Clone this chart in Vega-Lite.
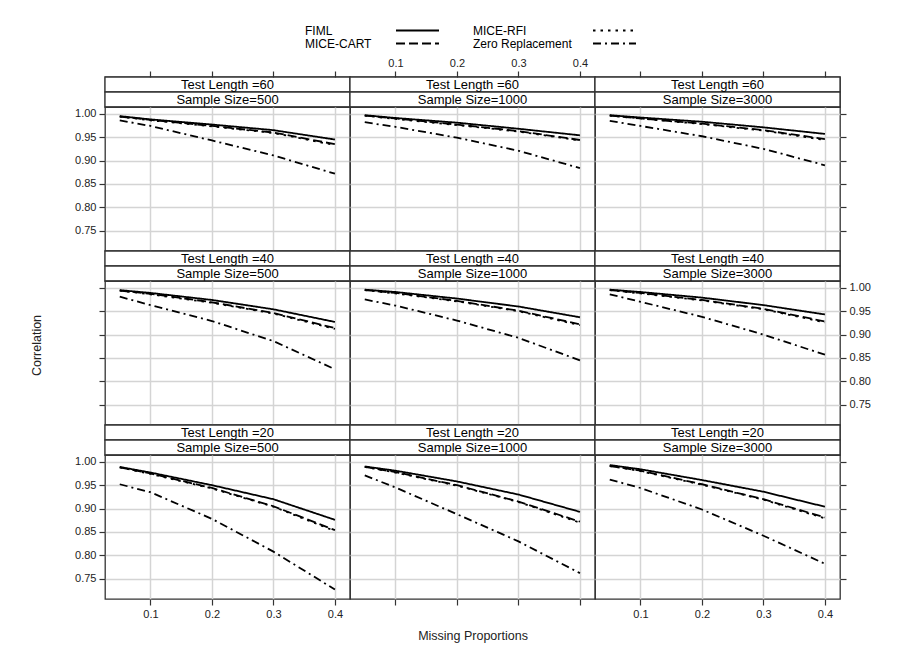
{
"$schema": "https://vega.github.io/schema/vega-lite/v6.json",
"padding": {"left": 29, "top": 24, "right": 5, "bottom": 5},
"background": "white",
"config": {
  "view": {"stroke": "#333", "strokeWidth": 1.3},
  "axis": {"domain": false, "tickColor": "#333", "tickSize": 6, "tickWidth": 1.2, "labelPadding": 3, "labelFont": "Liberation Sans", "labelFontSize": 11, "labelColor": "#222", "labelFlush": false, "gridColor": "#d4d4d4", "gridWidth": 1.5, "titleFont": "Liberation Sans", "titleFontSize": 12.5, "titleFontWeight": "normal", "titleColor": "#222"},
  "text": {"font": "Liberation Sans"}
},
"datasets": {"d": [
{"t":60,"s":500,"m":"FIML","p":0.05,"r":0.995},{"t":60,"s":500,"m":"FIML","p":0.1,"r":0.988},{"t":60,"s":500,"m":"FIML","p":0.2,"r":0.977},{"t":60,"s":500,"m":"FIML","p":0.3,"r":0.965},{"t":60,"s":500,"m":"FIML","p":0.4,"r":0.945},
{"t":60,"s":500,"m":"MICE-CART","p":0.05,"r":0.994},{"t":60,"s":500,"m":"MICE-CART","p":0.1,"r":0.987},{"t":60,"s":500,"m":"MICE-CART","p":0.2,"r":0.974},{"t":60,"s":500,"m":"MICE-CART","p":0.3,"r":0.960},{"t":60,"s":500,"m":"MICE-CART","p":0.4,"r":0.935},
{"t":60,"s":500,"m":"MICE-RFI","p":0.05,"r":0.994},{"t":60,"s":500,"m":"MICE-RFI","p":0.1,"r":0.986},{"t":60,"s":500,"m":"MICE-RFI","p":0.2,"r":0.973},{"t":60,"s":500,"m":"MICE-RFI","p":0.3,"r":0.959},{"t":60,"s":500,"m":"MICE-RFI","p":0.4,"r":0.933},
{"t":60,"s":500,"m":"Zero Replacement","p":0.05,"r":0.986},{"t":60,"s":500,"m":"Zero Replacement","p":0.1,"r":0.974},{"t":60,"s":500,"m":"Zero Replacement","p":0.2,"r":0.943},{"t":60,"s":500,"m":"Zero Replacement","p":0.3,"r":0.911},{"t":60,"s":500,"m":"Zero Replacement","p":0.4,"r":0.872},
{"t":60,"s":1000,"m":"FIML","p":0.05,"r":0.997},{"t":60,"s":1000,"m":"FIML","p":0.1,"r":0.991},{"t":60,"s":1000,"m":"FIML","p":0.2,"r":0.981},{"t":60,"s":1000,"m":"FIML","p":0.3,"r":0.968},{"t":60,"s":1000,"m":"FIML","p":0.4,"r":0.954},
{"t":60,"s":1000,"m":"MICE-CART","p":0.05,"r":0.996},{"t":60,"s":1000,"m":"MICE-CART","p":0.1,"r":0.990},{"t":60,"s":1000,"m":"MICE-CART","p":0.2,"r":0.977},{"t":60,"s":1000,"m":"MICE-CART","p":0.3,"r":0.963},{"t":60,"s":1000,"m":"MICE-CART","p":0.4,"r":0.944},
{"t":60,"s":1000,"m":"MICE-RFI","p":0.05,"r":0.996},{"t":60,"s":1000,"m":"MICE-RFI","p":0.1,"r":0.989},{"t":60,"s":1000,"m":"MICE-RFI","p":0.2,"r":0.976},{"t":60,"s":1000,"m":"MICE-RFI","p":0.3,"r":0.962},{"t":60,"s":1000,"m":"MICE-RFI","p":0.4,"r":0.943},
{"t":60,"s":1000,"m":"Zero Replacement","p":0.05,"r":0.982},{"t":60,"s":1000,"m":"Zero Replacement","p":0.1,"r":0.972},{"t":60,"s":1000,"m":"Zero Replacement","p":0.2,"r":0.949},{"t":60,"s":1000,"m":"Zero Replacement","p":0.3,"r":0.921},{"t":60,"s":1000,"m":"Zero Replacement","p":0.4,"r":0.884},
{"t":60,"s":3000,"m":"FIML","p":0.05,"r":0.997},{"t":60,"s":3000,"m":"FIML","p":0.1,"r":0.992},{"t":60,"s":3000,"m":"FIML","p":0.2,"r":0.983},{"t":60,"s":3000,"m":"FIML","p":0.3,"r":0.971},{"t":60,"s":3000,"m":"FIML","p":0.4,"r":0.957},
{"t":60,"s":3000,"m":"MICE-CART","p":0.05,"r":0.996},{"t":60,"s":3000,"m":"MICE-CART","p":0.1,"r":0.990},{"t":60,"s":3000,"m":"MICE-CART","p":0.2,"r":0.979},{"t":60,"s":3000,"m":"MICE-CART","p":0.3,"r":0.965},{"t":60,"s":3000,"m":"MICE-CART","p":0.4,"r":0.946},
{"t":60,"s":3000,"m":"MICE-RFI","p":0.05,"r":0.996},{"t":60,"s":3000,"m":"MICE-RFI","p":0.1,"r":0.990},{"t":60,"s":3000,"m":"MICE-RFI","p":0.2,"r":0.978},{"t":60,"s":3000,"m":"MICE-RFI","p":0.3,"r":0.964},{"t":60,"s":3000,"m":"MICE-RFI","p":0.4,"r":0.944},
{"t":60,"s":3000,"m":"Zero Replacement","p":0.05,"r":0.985},{"t":60,"s":3000,"m":"Zero Replacement","p":0.1,"r":0.974},{"t":60,"s":3000,"m":"Zero Replacement","p":0.2,"r":0.952},{"t":60,"s":3000,"m":"Zero Replacement","p":0.3,"r":0.925},{"t":60,"s":3000,"m":"Zero Replacement","p":0.4,"r":0.890},
{"t":40,"s":500,"m":"FIML","p":0.05,"r":0.995},{"t":40,"s":500,"m":"FIML","p":0.1,"r":0.989},{"t":40,"s":500,"m":"FIML","p":0.2,"r":0.974},{"t":40,"s":500,"m":"FIML","p":0.3,"r":0.954},{"t":40,"s":500,"m":"FIML","p":0.4,"r":0.927},
{"t":40,"s":500,"m":"MICE-CART","p":0.05,"r":0.994},{"t":40,"s":500,"m":"MICE-CART","p":0.1,"r":0.987},{"t":40,"s":500,"m":"MICE-CART","p":0.2,"r":0.969},{"t":40,"s":500,"m":"MICE-CART","p":0.3,"r":0.946},{"t":40,"s":500,"m":"MICE-CART","p":0.4,"r":0.914},
{"t":40,"s":500,"m":"MICE-RFI","p":0.05,"r":0.994},{"t":40,"s":500,"m":"MICE-RFI","p":0.1,"r":0.986},{"t":40,"s":500,"m":"MICE-RFI","p":0.2,"r":0.968},{"t":40,"s":500,"m":"MICE-RFI","p":0.3,"r":0.945},{"t":40,"s":500,"m":"MICE-RFI","p":0.4,"r":0.912},
{"t":40,"s":500,"m":"Zero Replacement","p":0.05,"r":0.981},{"t":40,"s":500,"m":"Zero Replacement","p":0.1,"r":0.963},{"t":40,"s":500,"m":"Zero Replacement","p":0.2,"r":0.929},{"t":40,"s":500,"m":"Zero Replacement","p":0.3,"r":0.886},{"t":40,"s":500,"m":"Zero Replacement","p":0.4,"r":0.826},
{"t":40,"s":1000,"m":"FIML","p":0.05,"r":0.996},{"t":40,"s":1000,"m":"FIML","p":0.1,"r":0.991},{"t":40,"s":1000,"m":"FIML","p":0.2,"r":0.977},{"t":40,"s":1000,"m":"FIML","p":0.3,"r":0.960},{"t":40,"s":1000,"m":"FIML","p":0.4,"r":0.937},
{"t":40,"s":1000,"m":"MICE-CART","p":0.05,"r":0.995},{"t":40,"s":1000,"m":"MICE-CART","p":0.1,"r":0.989},{"t":40,"s":1000,"m":"MICE-CART","p":0.2,"r":0.972},{"t":40,"s":1000,"m":"MICE-CART","p":0.3,"r":0.951},{"t":40,"s":1000,"m":"MICE-CART","p":0.4,"r":0.922},
{"t":40,"s":1000,"m":"MICE-RFI","p":0.05,"r":0.995},{"t":40,"s":1000,"m":"MICE-RFI","p":0.1,"r":0.988},{"t":40,"s":1000,"m":"MICE-RFI","p":0.2,"r":0.971},{"t":40,"s":1000,"m":"MICE-RFI","p":0.3,"r":0.950},{"t":40,"s":1000,"m":"MICE-RFI","p":0.4,"r":0.920},
{"t":40,"s":1000,"m":"Zero Replacement","p":0.05,"r":0.975},{"t":40,"s":1000,"m":"Zero Replacement","p":0.1,"r":0.962},{"t":40,"s":1000,"m":"Zero Replacement","p":0.2,"r":0.930},{"t":40,"s":1000,"m":"Zero Replacement","p":0.3,"r":0.893},{"t":40,"s":1000,"m":"Zero Replacement","p":0.4,"r":0.845},
{"t":40,"s":3000,"m":"FIML","p":0.05,"r":0.996},{"t":40,"s":3000,"m":"FIML","p":0.1,"r":0.991},{"t":40,"s":3000,"m":"FIML","p":0.2,"r":0.979},{"t":40,"s":3000,"m":"FIML","p":0.3,"r":0.963},{"t":40,"s":3000,"m":"FIML","p":0.4,"r":0.943},
{"t":40,"s":3000,"m":"MICE-CART","p":0.05,"r":0.995},{"t":40,"s":3000,"m":"MICE-CART","p":0.1,"r":0.989},{"t":40,"s":3000,"m":"MICE-CART","p":0.2,"r":0.974},{"t":40,"s":3000,"m":"MICE-CART","p":0.3,"r":0.955},{"t":40,"s":3000,"m":"MICE-CART","p":0.4,"r":0.928},
{"t":40,"s":3000,"m":"MICE-RFI","p":0.05,"r":0.995},{"t":40,"s":3000,"m":"MICE-RFI","p":0.1,"r":0.988},{"t":40,"s":3000,"m":"MICE-RFI","p":0.2,"r":0.973},{"t":40,"s":3000,"m":"MICE-RFI","p":0.3,"r":0.954},{"t":40,"s":3000,"m":"MICE-RFI","p":0.4,"r":0.926},
{"t":40,"s":3000,"m":"Zero Replacement","p":0.05,"r":0.986},{"t":40,"s":3000,"m":"Zero Replacement","p":0.1,"r":0.970},{"t":40,"s":3000,"m":"Zero Replacement","p":0.2,"r":0.938},{"t":40,"s":3000,"m":"Zero Replacement","p":0.3,"r":0.900},{"t":40,"s":3000,"m":"Zero Replacement","p":0.4,"r":0.857},
{"t":20,"s":500,"m":"FIML","p":0.05,"r":0.989},{"t":20,"s":500,"m":"FIML","p":0.1,"r":0.977},{"t":20,"s":500,"m":"FIML","p":0.2,"r":0.950},{"t":20,"s":500,"m":"FIML","p":0.3,"r":0.920},{"t":20,"s":500,"m":"FIML","p":0.4,"r":0.876},
{"t":20,"s":500,"m":"MICE-CART","p":0.05,"r":0.988},{"t":20,"s":500,"m":"MICE-CART","p":0.1,"r":0.975},{"t":20,"s":500,"m":"MICE-CART","p":0.2,"r":0.944},{"t":20,"s":500,"m":"MICE-CART","p":0.3,"r":0.905},{"t":20,"s":500,"m":"MICE-CART","p":0.4,"r":0.854},
{"t":20,"s":500,"m":"MICE-RFI","p":0.05,"r":0.988},{"t":20,"s":500,"m":"MICE-RFI","p":0.1,"r":0.974},{"t":20,"s":500,"m":"MICE-RFI","p":0.2,"r":0.943},{"t":20,"s":500,"m":"MICE-RFI","p":0.3,"r":0.904},{"t":20,"s":500,"m":"MICE-RFI","p":0.4,"r":0.852},
{"t":20,"s":500,"m":"Zero Replacement","p":0.05,"r":0.952},{"t":20,"s":500,"m":"Zero Replacement","p":0.1,"r":0.935},{"t":20,"s":500,"m":"Zero Replacement","p":0.2,"r":0.878},{"t":20,"s":500,"m":"Zero Replacement","p":0.3,"r":0.808},{"t":20,"s":500,"m":"Zero Replacement","p":0.4,"r":0.727},
{"t":20,"s":1000,"m":"FIML","p":0.05,"r":0.990},{"t":20,"s":1000,"m":"FIML","p":0.1,"r":0.981},{"t":20,"s":1000,"m":"FIML","p":0.2,"r":0.958},{"t":20,"s":1000,"m":"FIML","p":0.3,"r":0.930},{"t":20,"s":1000,"m":"FIML","p":0.4,"r":0.893},
{"t":20,"s":1000,"m":"MICE-CART","p":0.05,"r":0.989},{"t":20,"s":1000,"m":"MICE-CART","p":0.1,"r":0.978},{"t":20,"s":1000,"m":"MICE-CART","p":0.2,"r":0.950},{"t":20,"s":1000,"m":"MICE-CART","p":0.3,"r":0.915},{"t":20,"s":1000,"m":"MICE-CART","p":0.4,"r":0.872},
{"t":20,"s":1000,"m":"MICE-RFI","p":0.05,"r":0.989},{"t":20,"s":1000,"m":"MICE-RFI","p":0.1,"r":0.977},{"t":20,"s":1000,"m":"MICE-RFI","p":0.2,"r":0.949},{"t":20,"s":1000,"m":"MICE-RFI","p":0.3,"r":0.914},{"t":20,"s":1000,"m":"MICE-RFI","p":0.4,"r":0.870},
{"t":20,"s":1000,"m":"Zero Replacement","p":0.05,"r":0.971},{"t":20,"s":1000,"m":"Zero Replacement","p":0.1,"r":0.945},{"t":20,"s":1000,"m":"Zero Replacement","p":0.2,"r":0.888},{"t":20,"s":1000,"m":"Zero Replacement","p":0.3,"r":0.830},{"t":20,"s":1000,"m":"Zero Replacement","p":0.4,"r":0.762},
{"t":20,"s":3000,"m":"FIML","p":0.05,"r":0.993},{"t":20,"s":3000,"m":"FIML","p":0.1,"r":0.984},{"t":20,"s":3000,"m":"FIML","p":0.2,"r":0.961},{"t":20,"s":3000,"m":"FIML","p":0.3,"r":0.936},{"t":20,"s":3000,"m":"FIML","p":0.4,"r":0.904},
{"t":20,"s":3000,"m":"MICE-CART","p":0.05,"r":0.991},{"t":20,"s":3000,"m":"MICE-CART","p":0.1,"r":0.981},{"t":20,"s":3000,"m":"MICE-CART","p":0.2,"r":0.952},{"t":20,"s":3000,"m":"MICE-CART","p":0.3,"r":0.920},{"t":20,"s":3000,"m":"MICE-CART","p":0.4,"r":0.881},
{"t":20,"s":3000,"m":"MICE-RFI","p":0.05,"r":0.991},{"t":20,"s":3000,"m":"MICE-RFI","p":0.1,"r":0.980},{"t":20,"s":3000,"m":"MICE-RFI","p":0.2,"r":0.951},{"t":20,"s":3000,"m":"MICE-RFI","p":0.3,"r":0.919},{"t":20,"s":3000,"m":"MICE-RFI","p":0.4,"r":0.879},
{"t":20,"s":3000,"m":"Zero Replacement","p":0.05,"r":0.962},{"t":20,"s":3000,"m":"Zero Replacement","p":0.1,"r":0.944},{"t":20,"s":3000,"m":"Zero Replacement","p":0.2,"r":0.898},{"t":20,"s":3000,"m":"Zero Replacement","p":0.3,"r":0.842},{"t":20,"s":3000,"m":"Zero Replacement","p":0.4,"r":0.782}
]},
"bounds": "flush",
"spacing": 27,
"vconcat": [
{
  "width": 735, "height": 26,
  "view": {"stroke": null},
  "data": {"values": [{"m":"FIML","col":1,"row":1},{"m":"MICE-CART","col":1,"row":2},{"m":"MICE-RFI","col":2,"row":1},{"m":"Zero Replacement","col":2,"row":2}]},
  "encoding": {"y": {"field":"row","type":"ordinal","axis":null,"scale":{"paddingInner":0,"paddingOuter":0}}},
  "layer": [
    {"mark": {"type":"text","align":"left","fontSize":12,"font":"Liberation Sans","color":"black"},
     "encoding": {"x": {"field":"col","type":"quantitative","scale":{"domain":[1,2],"range":[200,368]},"axis":null}, "text":{"field":"m"}}},
    {"mark": {"type":"rule","color":"black","strokeWidth":1.8,"x2Offset":43},
     "encoding": {"x": {"field":"col","type":"quantitative","scale":{"domain":[1,2],"range":[291,488]},"axis":null}, "x2": {"field":"col"},
       "strokeDash":{"field":"m","type":"nominal","scale":{"domain":["FIML","MICE-CART","MICE-RFI","Zero Replacement"],"range":[[1,0],[9,4],[2.5,5],[8,4,2,4]]},"legend":null}}}
  ],
  "resolve": {"scale": {"x": "independent"}}
},
{"bounds":"flush","spacing":0,"align":"each","columns":3,"concat":[
   {"width":245,"height":30,"data":{"values":[{"k":1,"lab":"Test Length =60"},{"k":2,"lab":"Sample Size=500"}]},
    "encoding":{"y":{"field":"k","type":"ordinal","axis":null,"scale":{"paddingInner":0,"paddingOuter":0}}},
    "layer":[{"mark":{"type":"rect","fill":"white","stroke":"#333","strokeWidth":1.3}},{"mark":{"type":"text","fontSize":13,"color":"black"},"encoding":{"text":{"field":"lab"}}}]},
   {"width":245,"height":30,"data":{"values":[{"k":1,"lab":"Test Length =60"},{"k":2,"lab":"Sample Size=1000"}]},
    "encoding":{"y":{"field":"k","type":"ordinal","axis":null,"scale":{"paddingInner":0,"paddingOuter":0}}},
    "layer":[{"mark":{"type":"rect","fill":"white","stroke":"#333","strokeWidth":1.3}},{"mark":{"type":"text","fontSize":13,"color":"black"},"encoding":{"text":{"field":"lab"}}}]},
   {"width":245,"height":30,"data":{"values":[{"k":1,"lab":"Test Length =60"},{"k":2,"lab":"Sample Size=3000"}]},
    "encoding":{"y":{"field":"k","type":"ordinal","axis":null,"scale":{"paddingInner":0,"paddingOuter":0}}},
    "layer":[{"mark":{"type":"rect","fill":"white","stroke":"#333","strokeWidth":1.3}},{"mark":{"type":"text","fontSize":13,"color":"black"},"encoding":{"text":{"field":"lab"}}}]},
   {"width":245,"height":144,"data":{"name":"d"},"transform":[{"filter":"datum.t==60 && datum.s==500"}],
    "mark":{"type":"line","color":"black","strokeWidth":1.8},
    "encoding":{
     "x":{"field":"p","type":"quantitative","scale":{"domain":[0.026,0.4245],"nice":false,"zero":false},"axis":{"orient":"top","offset":30,"values":[0.1,0.2,0.3,0.4],"labels":false,"title":null}},
     "y":{"field":"r","type":"quantitative","scale":{"domain":[0.7068,1.0145],"nice":false,"zero":false},"axis":{"orient":"left","values":[0.75,0.8,0.85,0.9,0.95,1],"format":".2f","title":null}},
     "strokeDash":{"field":"m","type":"nominal","scale":{"domain":["FIML","MICE-CART","MICE-RFI","Zero Replacement"],"range":[[1,0],[9,4],[2.5,5],[8,4,2,4]]},"legend":null}}},
   {"width":245,"height":144,"data":{"name":"d"},"transform":[{"filter":"datum.t==60 && datum.s==1000"}],
    "mark":{"type":"line","color":"black","strokeWidth":1.8},
    "encoding":{
     "x":{"field":"p","type":"quantitative","scale":{"domain":[0.026,0.4245],"nice":false,"zero":false},"axis":{"orient":"top","offset":30,"values":[0.1,0.2,0.3,0.4],"format":".1f","title":null}},
     "y":{"field":"r","type":"quantitative","scale":{"domain":[0.7068,1.0145],"nice":false,"zero":false},"axis":{"values":[0.75,0.8,0.85,0.9,0.95,1],"ticks":false,"labels":false,"title":null}},
     "strokeDash":{"field":"m","type":"nominal","scale":{"domain":["FIML","MICE-CART","MICE-RFI","Zero Replacement"],"range":[[1,0],[9,4],[2.5,5],[8,4,2,4]]},"legend":null}}},
   {"width":245,"height":144,"data":{"name":"d"},"transform":[{"filter":"datum.t==60 && datum.s==3000"}],
    "mark":{"type":"line","color":"black","strokeWidth":1.8},
    "encoding":{
     "x":{"field":"p","type":"quantitative","scale":{"domain":[0.026,0.4245],"nice":false,"zero":false},"axis":{"orient":"top","offset":30,"values":[0.1,0.2,0.3,0.4],"labels":false,"title":null}},
     "y":{"field":"r","type":"quantitative","scale":{"domain":[0.7068,1.0145],"nice":false,"zero":false},"axis":{"orient":"right","values":[0.75,0.8,0.85,0.9,0.95,1],"labels":false,"title":null}},
     "strokeDash":{"field":"m","type":"nominal","scale":{"domain":["FIML","MICE-CART","MICE-RFI","Zero Replacement"],"range":[[1,0],[9,4],[2.5,5],[8,4,2,4]]},"legend":null}}},
   {"width":245,"height":30,"data":{"values":[{"k":1,"lab":"Test Length =40"},{"k":2,"lab":"Sample Size=500"}]},
    "encoding":{"y":{"field":"k","type":"ordinal","axis":null,"scale":{"paddingInner":0,"paddingOuter":0}}},
    "layer":[{"mark":{"type":"rect","fill":"white","stroke":"#333","strokeWidth":1.3}},{"mark":{"type":"text","fontSize":13,"color":"black"},"encoding":{"text":{"field":"lab"}}}]},
   {"width":245,"height":30,"data":{"values":[{"k":1,"lab":"Test Length =40"},{"k":2,"lab":"Sample Size=1000"}]},
    "encoding":{"y":{"field":"k","type":"ordinal","axis":null,"scale":{"paddingInner":0,"paddingOuter":0}}},
    "layer":[{"mark":{"type":"rect","fill":"white","stroke":"#333","strokeWidth":1.3}},{"mark":{"type":"text","fontSize":13,"color":"black"},"encoding":{"text":{"field":"lab"}}}]},
   {"width":245,"height":30,"data":{"values":[{"k":1,"lab":"Test Length =40"},{"k":2,"lab":"Sample Size=3000"}]},
    "encoding":{"y":{"field":"k","type":"ordinal","axis":null,"scale":{"paddingInner":0,"paddingOuter":0}}},
    "layer":[{"mark":{"type":"rect","fill":"white","stroke":"#333","strokeWidth":1.3}},{"mark":{"type":"text","fontSize":13,"color":"black"},"encoding":{"text":{"field":"lab"}}}]},
   {"width":245,"height":144,"data":{"name":"d"},"transform":[{"filter":"datum.t==40 && datum.s==500"}],
    "mark":{"type":"line","color":"black","strokeWidth":1.8},
    "encoding":{
     "x":{"field":"p","type":"quantitative","scale":{"domain":[0.026,0.4245],"nice":false,"zero":false},"axis":{"values":[0.1,0.2,0.3,0.4],"ticks":false,"labels":false,"title":null}},
     "y":{"field":"r","type":"quantitative","scale":{"domain":[0.7068,1.0145],"nice":false,"zero":false},"axis":{"orient":"left","values":[0.75,0.8,0.85,0.9,0.95,1],"labels":false,"title":"Correlation","titlePadding":55,"titleY":64}},
     "strokeDash":{"field":"m","type":"nominal","scale":{"domain":["FIML","MICE-CART","MICE-RFI","Zero Replacement"],"range":[[1,0],[9,4],[2.5,5],[8,4,2,4]]},"legend":null}}},
   {"width":245,"height":144,"data":{"name":"d"},"transform":[{"filter":"datum.t==40 && datum.s==1000"}],
    "mark":{"type":"line","color":"black","strokeWidth":1.8},
    "encoding":{
     "x":{"field":"p","type":"quantitative","scale":{"domain":[0.026,0.4245],"nice":false,"zero":false},"axis":{"values":[0.1,0.2,0.3,0.4],"ticks":false,"labels":false,"title":null}},
     "y":{"field":"r","type":"quantitative","scale":{"domain":[0.7068,1.0145],"nice":false,"zero":false},"axis":{"values":[0.75,0.8,0.85,0.9,0.95,1],"ticks":false,"labels":false,"title":null}},
     "strokeDash":{"field":"m","type":"nominal","scale":{"domain":["FIML","MICE-CART","MICE-RFI","Zero Replacement"],"range":[[1,0],[9,4],[2.5,5],[8,4,2,4]]},"legend":null}}},
   {"width":245,"height":144,"data":{"name":"d"},"transform":[{"filter":"datum.t==40 && datum.s==3000"}],
    "mark":{"type":"line","color":"black","strokeWidth":1.8},
    "encoding":{
     "x":{"field":"p","type":"quantitative","scale":{"domain":[0.026,0.4245],"nice":false,"zero":false},"axis":{"values":[0.1,0.2,0.3,0.4],"ticks":false,"labels":false,"title":null}},
     "y":{"field":"r","type":"quantitative","scale":{"domain":[0.7068,1.0145],"nice":false,"zero":false},"axis":{"orient":"right","values":[0.75,0.8,0.85,0.9,0.95,1],"format":".2f","title":null}},
     "strokeDash":{"field":"m","type":"nominal","scale":{"domain":["FIML","MICE-CART","MICE-RFI","Zero Replacement"],"range":[[1,0],[9,4],[2.5,5],[8,4,2,4]]},"legend":null}}},
   {"width":245,"height":30,"data":{"values":[{"k":1,"lab":"Test Length =20"},{"k":2,"lab":"Sample Size=500"}]},
    "encoding":{"y":{"field":"k","type":"ordinal","axis":null,"scale":{"paddingInner":0,"paddingOuter":0}}},
    "layer":[{"mark":{"type":"rect","fill":"white","stroke":"#333","strokeWidth":1.3}},{"mark":{"type":"text","fontSize":13,"color":"black"},"encoding":{"text":{"field":"lab"}}}]},
   {"width":245,"height":30,"data":{"values":[{"k":1,"lab":"Test Length =20"},{"k":2,"lab":"Sample Size=1000"}]},
    "encoding":{"y":{"field":"k","type":"ordinal","axis":null,"scale":{"paddingInner":0,"paddingOuter":0}}},
    "layer":[{"mark":{"type":"rect","fill":"white","stroke":"#333","strokeWidth":1.3}},{"mark":{"type":"text","fontSize":13,"color":"black"},"encoding":{"text":{"field":"lab"}}}]},
   {"width":245,"height":30,"data":{"values":[{"k":1,"lab":"Test Length =20"},{"k":2,"lab":"Sample Size=3000"}]},
    "encoding":{"y":{"field":"k","type":"ordinal","axis":null,"scale":{"paddingInner":0,"paddingOuter":0}}},
    "layer":[{"mark":{"type":"rect","fill":"white","stroke":"#333","strokeWidth":1.3}},{"mark":{"type":"text","fontSize":13,"color":"black"},"encoding":{"text":{"field":"lab"}}}]},
   {"width":245,"height":144,"data":{"name":"d"},"transform":[{"filter":"datum.t==20 && datum.s==500"}],
    "mark":{"type":"line","color":"black","strokeWidth":1.8},
    "encoding":{
     "x":{"field":"p","type":"quantitative","scale":{"domain":[0.026,0.4245],"nice":false,"zero":false},"axis":{"orient":"bottom","values":[0.1,0.2,0.3,0.4],"format":".1f","title":null}},
     "y":{"field":"r","type":"quantitative","scale":{"domain":[0.7068,1.0145],"nice":false,"zero":false},"axis":{"orient":"left","values":[0.75,0.8,0.85,0.9,0.95,1],"format":".2f","title":null}},
     "strokeDash":{"field":"m","type":"nominal","scale":{"domain":["FIML","MICE-CART","MICE-RFI","Zero Replacement"],"range":[[1,0],[9,4],[2.5,5],[8,4,2,4]]},"legend":null}}},
   {"width":245,"height":144,"data":{"name":"d"},"transform":[{"filter":"datum.t==20 && datum.s==1000"}],
    "mark":{"type":"line","color":"black","strokeWidth":1.8},
    "encoding":{
     "x":{"field":"p","type":"quantitative","scale":{"domain":[0.026,0.4245],"nice":false,"zero":false},"axis":{"orient":"bottom","values":[0.1,0.2,0.3,0.4],"labels":false,"title":"Missing Proportions","titlePadding":24}},
     "y":{"field":"r","type":"quantitative","scale":{"domain":[0.7068,1.0145],"nice":false,"zero":false},"axis":{"values":[0.75,0.8,0.85,0.9,0.95,1],"ticks":false,"labels":false,"title":null}},
     "strokeDash":{"field":"m","type":"nominal","scale":{"domain":["FIML","MICE-CART","MICE-RFI","Zero Replacement"],"range":[[1,0],[9,4],[2.5,5],[8,4,2,4]]},"legend":null}}},
   {"width":245,"height":144,"data":{"name":"d"},"transform":[{"filter":"datum.t==20 && datum.s==3000"}],
    "mark":{"type":"line","color":"black","strokeWidth":1.8},
    "encoding":{
     "x":{"field":"p","type":"quantitative","scale":{"domain":[0.026,0.4245],"nice":false,"zero":false},"axis":{"orient":"bottom","values":[0.1,0.2,0.3,0.4],"format":".1f","title":null}},
     "y":{"field":"r","type":"quantitative","scale":{"domain":[0.7068,1.0145],"nice":false,"zero":false},"axis":{"orient":"right","values":[0.75,0.8,0.85,0.9,0.95,1],"labels":false,"title":null}},
     "strokeDash":{"field":"m","type":"nominal","scale":{"domain":["FIML","MICE-CART","MICE-RFI","Zero Replacement"],"range":[[1,0],[9,4],[2.5,5],[8,4,2,4]]},"legend":null}}}
]}
]
}
